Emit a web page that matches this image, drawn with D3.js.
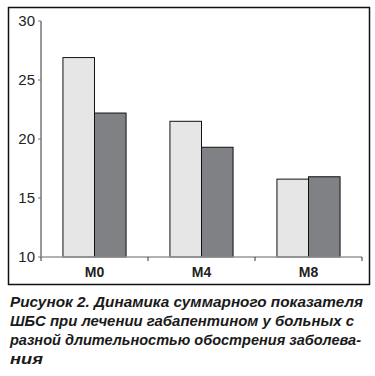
<!DOCTYPE html>
<html>
<head>
<meta charset="utf-8">
<script src="https://cdn.jsdelivr.net/npm/d3@7"></script>
<style>
  body { margin: 0; background: #fff; }
  svg { display: block; }
</style>
</head>
<body>
<svg id="chart" width="375" height="376"></svg>
<script>
// categories and the two series
let categories = ["M0", "M4", "M8"];
let seriesA = [26.9, 21.5, 16.6];
let seriesB = [22.2, 19.3, 16.8];
let yTicks = [10, 15, 20, 25, 30];
let caption = [
    "Рисунок 2. Динамика суммарного показателя",
    "ШБС при лечении габапентином у больных с",
    "разной длительностью обострения заболева-",
    "ния"
];

let svg = d3.select("#chart");

// frame round the plot
svg.append("rect")
    .attr("x", 8.5).attr("y", 7.5)
    .attr("width", 361).attr("height", 277)
    .attr("fill", "none").attr("stroke", "#111").attr("stroke-width", 1.5);

let plotLeft = 41, plotRight = 362, plotTop = 21, plotBottom = 257;

let x = d3.scaleBand(categories, [plotLeft, plotRight]).paddingInner(0.41).paddingOuter(0.205);
let xOuter = d3.scaleBand(categories, [plotLeft, plotRight]);
let y = d3.scaleLinear([10, 30], [plotBottom, plotTop]);

// y axis
svg.append("line")
    .attr("x1", plotLeft).attr("x2", plotLeft).attr("y1", plotTop).attr("y2", plotBottom)
    .attr("stroke", "#999").attr("stroke-width", 2);
svg.selectAll(".ytick").data(yTicks).join("line")
    .attr("x1", plotLeft - 3).attr("x2", plotLeft).attr("y1", d => y(d)).attr("y2", d => y(d))
    .attr("stroke", "#777");
svg.selectAll(".ylab").data(yTicks).join("text")
    .attr("x", plotLeft - 6).attr("y", d => y(d) + 5)
    .attr("text-anchor", "end")
    .attr("font-family", "Liberation Sans, Arial, sans-serif")
    .attr("font-size", 15).attr("fill", "#222")
    .text(d => d);

// bars
let pairs = categories.map((c, i) => ({c: c, a: seriesA[i], b: seriesB[i]}));
let half = x.bandwidth() / 2;
svg.selectAll(".barA").data(pairs).join("rect")
    .attr("x", d => x(d.c)).attr("width", half)
    .attr("y", d => y(d.a)).attr("height", d => y(10) - y(d.a))
    .attr("fill", "#e6e6e6").attr("stroke", "#111").attr("stroke-width", 1);
svg.selectAll(".barB").data(pairs).join("rect")
    .attr("x", d => x(d.c) + half).attr("width", half)
    .attr("y", d => y(d.b)).attr("height", d => y(10) - y(d.b))
    .attr("fill", "#808184").attr("stroke", "#111").attr("stroke-width", 1);

// x axis
svg.append("line")
    .attr("x1", plotLeft).attr("x2", plotRight).attr("y1", plotBottom).attr("y2", plotBottom)
    .attr("stroke", "#999").attr("stroke-width", 1.5);
let bounds = [plotLeft].concat(categories.map(c => xOuter(c) + xOuter.bandwidth()));
svg.selectAll(".xtick").data(bounds).join("line")
    .attr("x1", d => d).attr("x2", d => d).attr("y1", plotBottom).attr("y2", plotBottom + 4)
    .attr("stroke", "#333");
svg.selectAll(".xlab").data(categories).join("text")
    .attr("x", d => xOuter(d) + xOuter.bandwidth() / 2).attr("y", plotBottom + 20)
    .attr("text-anchor", "middle")
    .attr("font-family", "Liberation Sans, Arial, sans-serif")
    .attr("font-weight", "bold").attr("font-size", 14).attr("fill", "#222")
    .text(d => d);

// caption under the frame
let capWidths = [353, 344, 351, 33];
svg.selectAll(".cap").data(caption).join("text")
    .attr("x", 10).attr("y", (d, i) => 307 + i * 19)
    .attr("font-family", "Liberation Sans, Arial, sans-serif")
    .attr("font-weight", "bold").attr("font-style", "italic")
    .attr("font-size", 15).attr("fill", "#1a1a1a")
    .attr("textLength", (d, i) => capWidths[i])
    .attr("lengthAdjust", "spacingAndGlyphs")
    .text(d => d);
</script>
</body>
</html>
